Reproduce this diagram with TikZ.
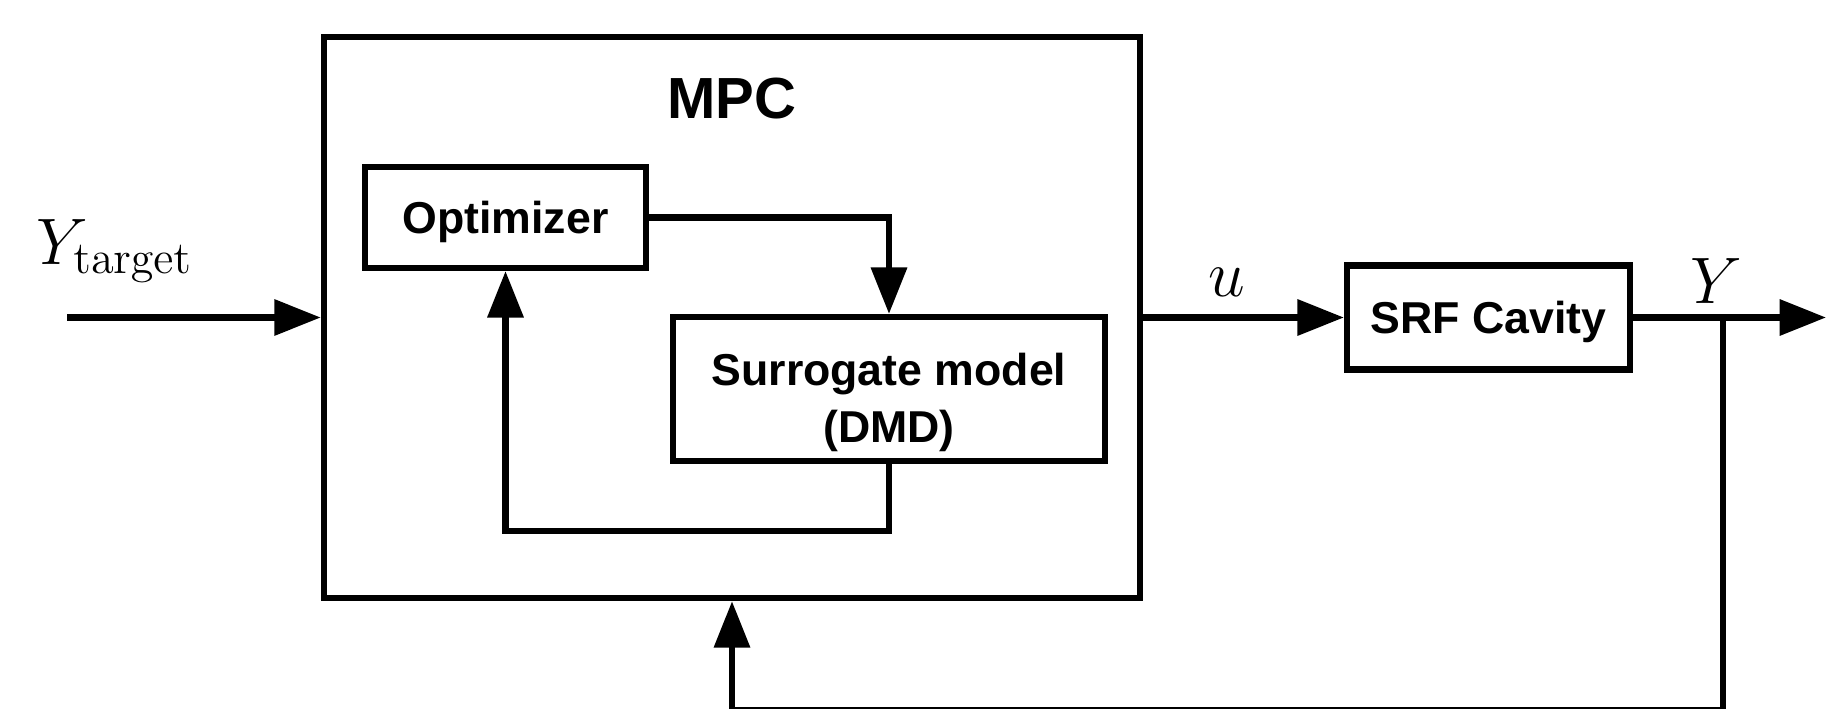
\RequirePackage{fix-cm}
\documentclass[tikz,border=0pt]{standalone}
\usepackage[no-math]{fontspec}
\setmainfont{Liberation Sans}
\usetikzlibrary{arrows.meta}
\begin{document}
\begin{tikzpicture}[x=0.01cm,y=-0.01cm,
  line width=1.75pt,
  blk/.style={draw, line width=1.75pt, inner sep=0pt, font=\fontsize{12.7}{16.2}\selectfont\bfseries, align=center},
  arr/.style={-{Triangle[length=13.2pt,width=10pt]}, line width=1.75pt},
  mlab/.style={inner sep=0pt, font=\fontsize{18.7}{22}\selectfont}
]
\useasboundingbox (0,0) rectangle (1826,709);
% boxes
\node[blk, minimum width=8.16cm, minimum height=5.61cm] (mpc) at (732,317.5) {};
\node[inner sep=0pt, anchor=base, font=\fontsize{16.5}{20}\selectfont\bfseries] (mpclab) at (732,118.5) {MPC};
\node[blk, minimum width=2.81cm, minimum height=1.01cm, text height=9.1pt, text depth=0pt] (opt) at (505.5,217.5) {Optimizer};
\node[blk, minimum width=4.32cm, minimum height=1.44cm] (sur) at (889,389) {\rule{0pt}{16.7pt}Surrogate model\\(DMD)};
\node[blk, minimum width=2.83cm, minimum height=1.04cm, text height=9.1pt, text depth=0pt] (srf) at (1488.5,317.5) {SRF Cavity};
% coordinates
\coordinate (yin) at (67,317.5);
\coordinate (yout) at (1826,317.5);
\coordinate (jn) at (1723,317.5);
\coordinate (fbr) at (1723,710);
\coordinate (fbl) at (732,710);
% labels
\node[mlab, anchor=base west] (ytl) at (33,264) {$Y_{\mathrm{target}}$};
\node[mlab, anchor=base] (ul) at (1227,296) {$u$};
\node[mlab, anchor=base] (yl) at (1716,303) {$Y$};
% connectors
\draw[arr] (yin) -- (mpc.west);
\draw[arr] (opt.east) -| (sur.north);
\draw[arr] (sur.south) -- ++(0,67) -| (opt.south);
\draw[arr] (mpc.east) -- (srf.west);
\draw[arr] (srf.east) -- (yout);
\draw (jn) -- (fbr) -- (fbl);
\draw[arr] (fbl) -- (mpc.south);
\end{tikzpicture}
\end{document}
